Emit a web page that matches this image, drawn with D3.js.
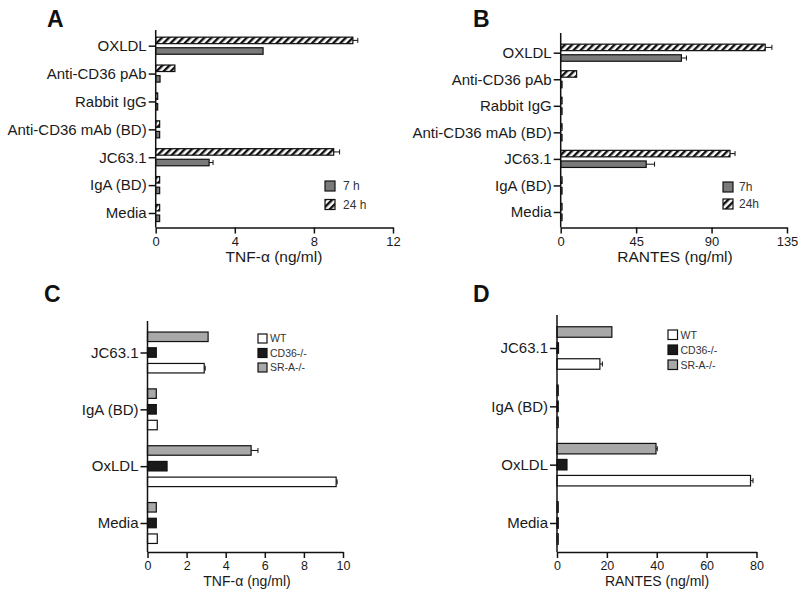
<!DOCTYPE html>
<html><head><meta charset="utf-8">
<script src="https://cdn.jsdelivr.net/npm/d3@7"></script>
<style>body{margin:0;background:#fff}svg{display:block}text{font-family:"Liberation Sans",Arial,sans-serif}</style>
</head><body><svg id="c" width="800" height="596"></svg>
<script>
// ---- data ----
const catsTop = ["OXLDL","Anti-CD36 pAb","Rabbit IgG","Anti-CD36 mAb (BD)","JC63.1","IgA (BD)","Media"];
const a7h = [5.43, 0.22, 0.1, 0.2, 2.7, 0.2, 0.2];
const a7hErr = [0, 0, 0, 0, 0.2, 0, 0];
const a24h = [9.97, 0.97, 0.1, 0.2, 9.0, 0.2, 0.2];
const a24hErr = [0.25, 0, 0, 0, 0.3, 0, 0];
const b7h = [72, 0.8, 0.8, 0.8, 51, 0.8, 0.8];
const b7hErr = [3, 0, 0, 0, 5, 0, 0];
const b24h = [122, 9.5, 0.8, 0.8, 101, 0.8, 0.8];
const b24hErr = [4, 0, 0, 0, 3, 0, 0];
const aTicks = [0, 4, 8, 12];
const bTicks = [0, 45, 90, 135];

const catsBottom = ["JC63.1","IgA (BD)","OxLDL","Media"];
const cWT = [2.9, 0.5, 9.65, 0.5];
const cWTErr = [0.05, 0, 0.05, 0];
const cCD36 = [0.45, 0.45, 1.0, 0.45];
const cSRA = [3.1, 0.45, 5.3, 0.45];
const cSRAErr = [0, 0, 0.35, 0];
const dWT = [17.2, 0.5, 77.6, 0.5];
const dWTErr = [1.0, 0, 1.0, 0];
const dCD36 = [0.6, 0.5, 4.0, 0.5];
const dSRA = [22, 0.5, 39.7, 0.5];
const dSRAErr = [0, 0, 0.5, 0];
const cTicks = [0, 2, 4, 6, 8, 10];
const dTicks = [0, 20, 40, 60, 80];

const svg = d3.select("#c");
const defs = svg.append("defs");
const pat = defs.append("pattern").attr("id","hatch").attr("patternUnits","userSpaceOnUse")
  .attr("width",5).attr("height",5).attr("patternTransform","rotate(45)");
pat.append("rect").attr("width",5).attr("height",5).attr("fill","#fff");
pat.append("rect").attr("x",0).attr("width",2.4).attr("height",5).attr("fill","#111");

function panel(p){
  const g = svg.append("g");
  const x = d3.scaleLinear().domain(p.domain).range(p.xr);
  const y = d3.scalePoint().domain(p.cats).range(p.yr);
  g.append("text").attr("x",p.letter[0]).attr("y",p.letter[1]).text(p.letterText)
    .attr("font-size",23).attr("font-weight","bold").attr("fill","#111");
  p.series.forEach(s=>{
    const rows = p.cats.map((c,i)=>({c,v:s.values[i],e:s.err?s.err[i]:0}));
    g.selectAll(null).data(rows).enter().append("rect")
      .attr("x",x(0)).attr("y",d=>y(d.c)+s.off-p.bh/2)
      .attr("width",d=>x(d.v)-x(0)).attr("height",p.bh)
      .attr("fill",s.fill).attr("stroke","#111").attr("stroke-width",1.2);
    const er = rows.filter(d=>d.e>0);
    g.selectAll(null).data(er).enter().append("line")
      .attr("x1",d=>x(d.v)).attr("x2",d=>x(d.v+d.e))
      .attr("y1",d=>y(d.c)+s.off).attr("y2",d=>y(d.c)+s.off)
      .attr("stroke","#111").attr("stroke-width",1);
    g.selectAll(null).data(er).enter().append("line")
      .attr("x1",d=>x(d.v+d.e)).attr("x2",d=>x(d.v+d.e))
      .attr("y1",d=>y(d.c)+s.off-2.5).attr("y2",d=>y(d.c)+s.off+2.5)
      .attr("stroke","#111").attr("stroke-width",1);
  });
  const xa = g.append("g").attr("transform",`translate(0,${p.axisY})`)
    .call(d3.axisBottom(x).tickValues(p.ticks).tickSize(6).tickSizeOuter(0).tickPadding(3));
  xa.select(".domain").attr("stroke","#111").attr("stroke-width",1.5);
  xa.selectAll(".tick line").attr("stroke","#111").attr("stroke-width",1.5);
  xa.selectAll(".tick text").attr("font-size",p.tickFs).attr("fill","#1a1a1a").attr("font-family","Liberation Sans, Arial, sans-serif");
  g.append("line").attr("x1",x(0)).attr("x2",x(0)).attr("y1",p.topY).attr("y2",p.axisY)
    .attr("stroke","#111").attr("stroke-width",1.5);
  const ya = g.append("g").attr("transform",`translate(${x(0)},0)`)
    .call(d3.axisLeft(y).tickSize(7).tickSizeOuter(0).tickPadding(2));
  ya.select(".domain").remove();
  ya.selectAll(".tick line").attr("stroke","#111").attr("stroke-width",1.5);
  ya.selectAll(".tick text").attr("font-size",p.catFs).attr("fill","#1a1a1a").attr("font-family","Liberation Sans, Arial, sans-serif");
  g.append("text").attr("x",p.title[0]).attr("y",p.title[1]).attr("text-anchor","middle")
    .attr("font-size",p.titleFs).attr("fill","#1a1a1a").text(p.titleText);
  p.legend.items.forEach((it,i)=>{
    const ly = p.legend.y + i*p.legend.dy;
    g.append("rect").attr("x",p.legend.x).attr("y",ly).attr("width",p.legend.s).attr("height",p.legend.s)
      .attr("fill",it.fill).attr("stroke","#111").attr("stroke-width",1.2);
    g.append("text").attr("x",p.legend.x+p.legend.s+p.legend.gap).attr("y",ly+p.legend.s-1)
      .attr("font-size",p.legend.fs).attr("fill","#333").text(it.label);
  });
}

const g7 = "#7a7a7a", hatch = "url(#hatch)";
panel({letterText:"A", letter:[47,27], domain:[0,12], xr:[155.7,393], cats:catsTop, yr:[45.7,213],
  bh:6.5, axisY:227.5, topY:30, ticks:aTicks, tickFs:13, catFs:15, titleFs:15.5,
  title:[274,262], titleText:"TNF-α (ng/ml)",
  series:[{values:a24h, err:a24hErr, fill:hatch, off:-5.3},{values:a7h, err:a7hErr, fill:g7, off:5.3}],
  legend:{x:325, y:181, dy:18.5, s:10, gap:8, fs:12, items:[{fill:g7,label:"7 h"},{fill:hatch,label:"24 h"}]}});
panel({letterText:"B", letter:[473,27], domain:[0,135], xr:[560.7,787], cats:catsTop, yr:[52.7,212],
  bh:6.5, axisY:227.5, topY:33, ticks:bTicks, tickFs:13, catFs:15, titleFs:15.5,
  title:[675,262], titleText:"RANTES (ng/ml)",
  series:[{values:b24h, err:b24hErr, fill:hatch, off:-5.3},{values:b7h, err:b7hErr, fill:g7, off:5.3}],
  legend:{x:723, y:182, dy:17, s:10, gap:6, fs:12, items:[{fill:g7,label:"7h"},{fill:hatch,label:"24h"}]}});

const wt = "#fff", cd = "#1a1a1a", sr = "#a8a8a8";
panel({letterText:"C", letter:[44,302], domain:[0,10], xr:[147.5,343], cats:catsBottom, yr:[352.5,523],
  bh:9.5, axisY:552, topY:321, ticks:cTicks, tickFs:12.5, catFs:15, titleFs:14,
  title:[247,586], titleText:"TNF-α (ng/ml)",
  series:[{values:cSRA, err:cSRAErr, fill:sr, off:-15.7},{values:cCD36, fill:cd, off:0},{values:cWT, err:cWTErr, fill:wt, off:15.7}],
  legend:{x:258, y:334, dy:14.5, s:9, gap:3, fs:10.5, items:[{fill:wt,label:"WT"},{fill:cd,label:"CD36-/-"},{fill:sr,label:"SR-A-/-"}]}});
panel({letterText:"D", letter:[473,302], domain:[0,80], xr:[557,756.5], cats:catsBottom, yr:[348,523],
  bh:10.5, axisY:552, topY:315, ticks:dTicks, tickFs:12.5, catFs:15, titleFs:14,
  title:[657,586], titleText:"RANTES (ng/ml)",
  series:[{values:dSRA, err:dSRAErr, fill:sr, off:-16},{values:dCD36, fill:cd, off:0},{values:dWT, err:dWTErr, fill:wt, off:16}],
  legend:{x:668, y:330, dy:15, s:9.5, gap:3, fs:10.5, items:[{fill:wt,label:"WT"},{fill:cd,label:"CD36-/-"},{fill:sr,label:"SR-A-/-"}]}});
</script></body></html>
